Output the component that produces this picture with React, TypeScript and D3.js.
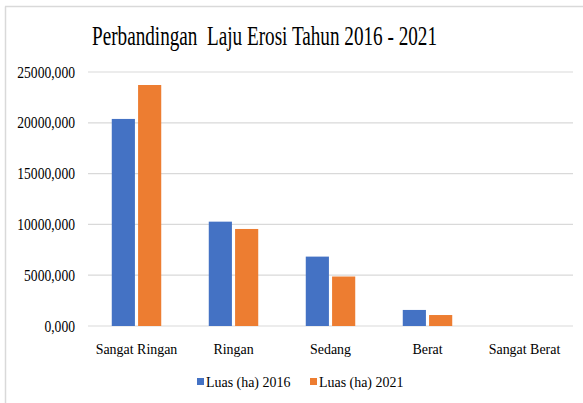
import React from "react";
import * as d3 from "d3";

const categories = ["Sangat Ringan", "Ringan", "Sedang", "Berat", "Sangat Berat"];
const series2016 = [20380, 10270, 6830, 1580, 0];
const series2021 = [23720, 9550, 4870, 1080, 0];
const seriesNames = ["Luas (ha) 2016", "Luas (ha) 2021"];
const yTicks = [0, 5000, 10000, 15000, 20000, 25000];
const title = "Perbandingan  Laju Erosi Tahun 2016 - 2021";

const colors = ["#4472C4", "#ED7D31"];
const W = 583, H = 403;
const font = "'Liberation Serif', 'Times New Roman', serif";

function T(props: { x: number; y: number; size: number; sx: number; anchor?: string; dy?: string; children: any }) {
  const { x, y, size, sx, anchor = "start", dy, children } = props;
  return (
    <text transform={`translate(${x},${y}) scale(${sx},1)`} textAnchor={anchor} dy={dy}
      fontSize={size} fill="#000" style={{ fontFamily: font, whiteSpace: "pre" }}>{children}</text>
  );
}

export default function App() {
  const x0 = d3.scaleBand().domain(categories).range([88, 573]).paddingInner(0.49).paddingOuter(0.245);
  const x1 = d3.scaleBand().domain(seriesNames).range([0, x0.bandwidth()]).paddingInner(0.12);
  const y = d3.scaleLinear().domain([0, 25000]).range([326, 72]);
  const fmt = (v: number) => `${v},000`;
  const data = [series2016, series2021];

  return (
    <svg width={W} height={H} style={{ position: "absolute", left: 0, top: 0, background: "#fff" }} fontFamily={font}>
      <rect x={0} y={0} width={W} height={H} fill="#fff" />
      <line x1={5.5} y1={6.5} x2={5.5} y2={H} stroke="#d9d9d9" strokeWidth={1.5} />
      <line x1={5} y1={6.5} x2={583} y2={6.5} stroke="#d9d9d9" strokeWidth={1.5} />
      <text x={264.5} y={44.5} textAnchor="middle" fontSize={26.5} fill="#000" textLength={345}
        lengthAdjust="spacingAndGlyphs" style={{ fontFamily: font, whiteSpace: "pre" }}>{title}</text>
      {yTicks.map((t) => (
        <g key={t}>
          <line x1={88} x2={573} y1={y(t)} y2={y(t)} stroke="#d9d9d9" strokeWidth={1.2} />
          <T x={75} y={y(t)} dy="0.35em" anchor="end" size={16} sx={0.85}>{fmt(t)}</T>
        </g>
      ))}
      {categories.map((c, i) => (
        <g key={c}>
          {seriesNames.map((s, j) => {
            const v = data[j][i];
            return (
              <rect key={s} x={(x0(c) as number) + (x1(s) as number)} width={x1.bandwidth()}
                y={y(v)} height={y(0) - y(v)} fill={colors[j]} />
            );
          })}
          <T x={(x0(c) as number) + x0.bandwidth() / 2} y={354} anchor="middle" size={15} sx={0.93}>{c}</T>
        </g>
      ))}
      {seriesNames.map((s, j) => {
        const lx = j === 0 ? 197 : 310;
        return (
          <g key={s}>
            <rect x={lx} y={378} width={7} height={7} fill={colors[j]} />
            <T x={lx + 9} y={387} size={15} sx={0.93}>{s}</T>
          </g>
        );
      })}
    </svg>
  );
}
